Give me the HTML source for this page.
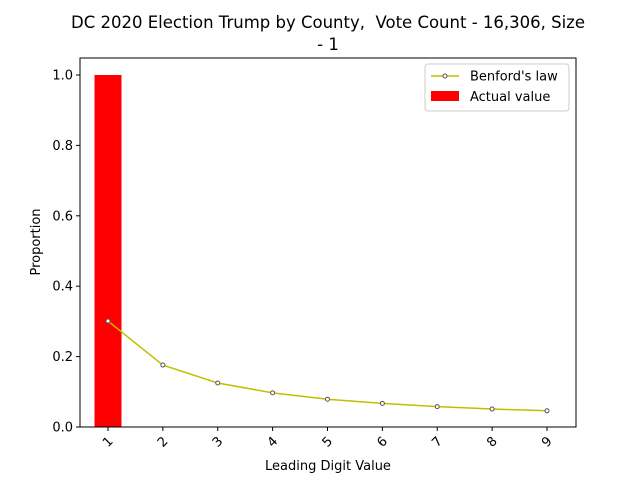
<!DOCTYPE html>
<html><head><meta charset="utf-8"><style>body{margin:0;background:#fff}svg{display:block;font-family:"DejaVu Sans","Liberation Sans",sans-serif}</style></head>
<body>
<svg id="chart" width="640" height="480">
<rect width="640" height="480" fill="#fff"/>
<text x="328" y="28" text-anchor="middle" font-size="16.5" xml:space="preserve">DC 2020 Election Trump by County,  Vote Count - 16,306, Size</text>
<text x="328" y="50" text-anchor="middle" font-size="16.5">- 1</text>
<g id="plot"></g>
<text x="328" y="470" text-anchor="middle" font-size="13">Leading Digit Value</text>
<text transform="translate(40,242) rotate(-90)" text-anchor="middle" font-size="13">Proportion</text>
<g>
<rect x="425" y="64" width="144" height="47" rx="3" fill="#fff" stroke="#ccc"/>
<line x1="431" y1="76" x2="459" y2="76" stroke="#bfbf00" stroke-width="1.5"/>
<circle cx="445" cy="76" r="2" fill="#fff" stroke="#555" stroke-width="1"/>
<text x="470" y="80.5" font-size="13">Benford's law</text>
<rect x="431" y="91" width="28" height="10" fill="#ff0000"/>
<text x="470" y="101" font-size="13">Actual value</text>
</g>
</svg>
<script>
const digits=[1,2,3,4,5,6,7,8,9];
const actual=[1,0,0,0,0,0,0,0,0];
const benford=[0.301,0.176,0.125,0.097,0.079,0.067,0.058,0.051,0.046];
const yTicks=[0,0.2,0.4,0.6,0.8,1.0];
const yTickLabels=["0.0","0.2","0.4","0.6","0.8","1.0"];
const NS="http://www.w3.org/2000/svg";
const L=80,R=576,T=58,B=427;
const xs=d=>108+(d-1)*(547-108)/8;
const ys=v=>B-v*(B-75);
const g=document.getElementById('plot');
function mk(t,a){const e=document.createElementNS(NS,t);for(const k in a)e.setAttribute(k,a[k]);g.appendChild(e);return e;}
actual.forEach((v,i)=>{const w=27;const e=mk('rect',{x:xs(digits[i])-w/2,y:ys(v),width:w,height:B-ys(v),fill:'#ff0000'});

});
const pl=mk('polyline',{points:benford.map((v,i)=>xs(digits[i])+','+ys(v)).join(' '),fill:'none',stroke:'#bfbf00','stroke-width':1.5});


benford.forEach((v,i)=>{const c=mk('circle',{cx:xs(digits[i]),cy:ys(v),r:2,fill:'#fff',stroke:'#555','stroke-width':1});

});
const fr=mk('rect',{x:L,y:T,width:R-L,height:B-T,fill:'none',stroke:'#000','stroke-width':1});


yTicks.forEach((v,i)=>{mk('line',{x1:L-4,x2:L,y1:ys(v),y2:ys(v),stroke:'#000'});
const t=mk('text',{x:L-7,y:ys(v)+4.5,'text-anchor':'end','font-size':13});t.textContent=yTickLabels[i];

});
digits.forEach(d=>{mk('line',{x1:xs(d),x2:xs(d),y1:B,y2:B+4,stroke:'#000'});
const t=mk('text',{x:0,y:0,'text-anchor':'middle','font-size':13,transform:`translate(${xs(d)},${B+15}) rotate(-45)`});
t.setAttribute('dy','4');t.textContent=d;

});
</script>
</body></html>
